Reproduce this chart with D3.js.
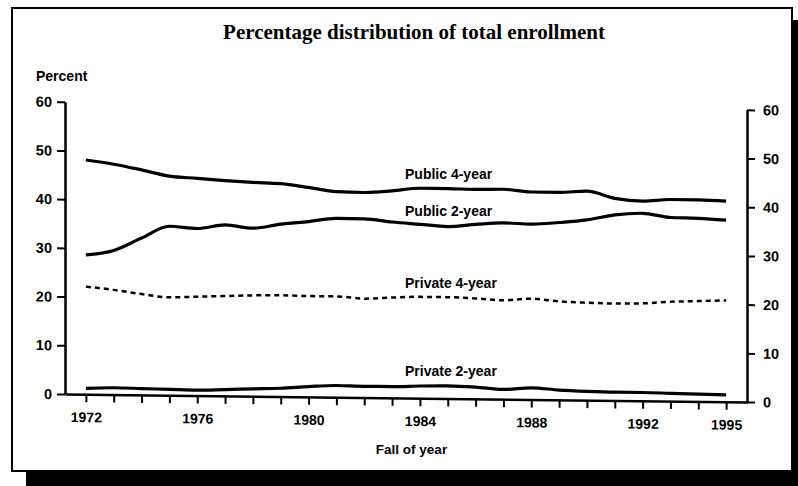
<!DOCTYPE html>
<html>
<head>
<meta charset="utf-8">
<script src="https://cdn.jsdelivr.net/npm/d3@7"></script>
<style>
  html, body { margin: 0; padding: 0; background: #fff; }
  svg { display: block; }
  text { font-family: "Liberation Sans", Arial, sans-serif; font-weight: bold; fill: #000; }
</style>
</head>
<body>
<svg id="chart" width="798" height="486"></svg>
<script>
const years = [1972,1973,1974,1975,1976,1977,1978,1979,1980,1981,1982,1983,1984,1985,1986,1987,1988,1989,1990,1991,1992,1993,1994,1995];
const labeledYears = [1972, 1976, 1980, 1984, 1988, 1992, 1995];
const yTicks = [0, 10, 20, 30, 40, 50, 60];

const public4 = [48.1,47.3,46.2,45.0,44.6,44.2,43.9,43.7,43.0,42.2,42.1,42.5,43.1,43.1,43.0,43.1,42.6,42.6,42.9,41.5,41.0,41.4,41.4,41.2];
const public2 = [28.6,29.6,32.2,34.7,34.3,35.1,34.5,35.4,36.0,36.7,36.7,36.1,35.7,35.3,35.8,36.2,36.0,36.4,37.0,38.1,38.5,37.7,37.6,37.3];
const private4 = [22.1,21.5,20.7,20.1,20.3,20.5,20.7,20.8,20.7,20.7,20.3,20.6,20.8,20.8,20.6,20.3,20.7,20.2,20.0,19.9,20.0,20.4,20.6,20.8];
const private2 = [1.2,1.4,1.3,1.2,1.1,1.3,1.5,1.7,2.1,2.4,2.3,2.3,2.5,2.6,2.4,2.0,2.4,2.0,1.8,1.7,1.7,1.6,1.5,1.4];

const seriesNames = ["Public 4-year", "Public 2-year", "Private 4-year", "Private 2-year"];

const svg = d3.select("#chart");

// shadow + frame
svg.append("rect").attr("x", 26).attr("y", 20).attr("width", 800).attr("height", 480).attr("fill", "#000");
svg.append("rect").attr("x", 12).attr("y", 8).attr("width", 780).attr("height", 463)
  .attr("fill", "#fff").attr("stroke", "#000").attr("stroke-width", 2);

// title
svg.append("text").attr("x", 414).attr("y", 39).attr("text-anchor", "middle")
  .style("font-family", "'Liberation Serif', 'Times New Roman', serif")
  .style("font-size", "21px").text("Percentage distribution of total enrollment");

svg.append("text").attr("x", 36).attr("y", 81).style("font-size", "14px").text("Percent");
svg.append("text").attr("x", 411.5).attr("y", 454).attr("text-anchor", "middle").style("font-size", "13.5px").text("Fall of year");

const x = d3.scaleLinear().domain([1971.25, 1995.75]).range([65, 747]);
const y = d3.scaleLinear().domain([0, 60]).range([394, 394 - 60 * 4.87]);

const k = 8 / 682;
const g = svg.append("g").attr("transform", `matrix(1,${k},0,1,0,${-k * 65})`);

function styleAxis(sel) {
  sel.select(".domain").attr("stroke", "#000").attr("stroke-width", 2.5);
  sel.selectAll(".tick line").attr("stroke", "#000").attr("stroke-width", 2);
  sel.selectAll(".tick text").style("font-size", "14.5px").style("font-family", "'Liberation Sans', Arial, sans-serif").style("font-weight", "bold");
}

g.append("g").attr("transform", `translate(${x.range()[0]},0)`)
  .call(d3.axisLeft(y).tickValues(yTicks).tickSize(8).tickSizeOuter(0).tickPadding(5))
  .call(styleAxis);

g.append("g").attr("transform", `translate(${x.range()[1]},0)`)
  .call(d3.axisRight(y).tickValues(yTicks).tickSize(8).tickSizeOuter(0).tickPadding(8))
  .call(styleAxis);

g.append("g").attr("transform", `translate(0,${y(0)})`)
  .call(d3.axisBottom(x).tickValues(years).tickFormat(d => labeledYears.includes(d) ? d : "").tickSize(8).tickSizeOuter(0).tickPadding(10))
  .call(styleAxis)
  .call(s => s.selectAll(".tick text").style("font-size", "14px"));

const line = d3.line().x((d, i) => x(years[i])).y(d => y(d)).curve(d3.curveMonotoneX);

const allSeries = [public4, public2, private4, private2];
allSeries.forEach((vals, i) => {
  g.append("path").datum(vals).attr("d", line)
    .attr("fill", "none").attr("stroke", "#000")
    .attr("stroke-width", i === 2 ? 2.5 : 3.2)
    .attr("stroke-dasharray", i === 2 ? "5,4" : null)
    .attr("stroke-linecap", "butt").attr("stroke-linejoin", "round");
});

// series labels
const labelY = [179, 216, 288, 376];
seriesNames.forEach((n, i) => {
  svg.append("text").attr("x", 405).attr("y", labelY[i]).style("font-size", "14px").text(n);
});
</script>
</body>
</html>
